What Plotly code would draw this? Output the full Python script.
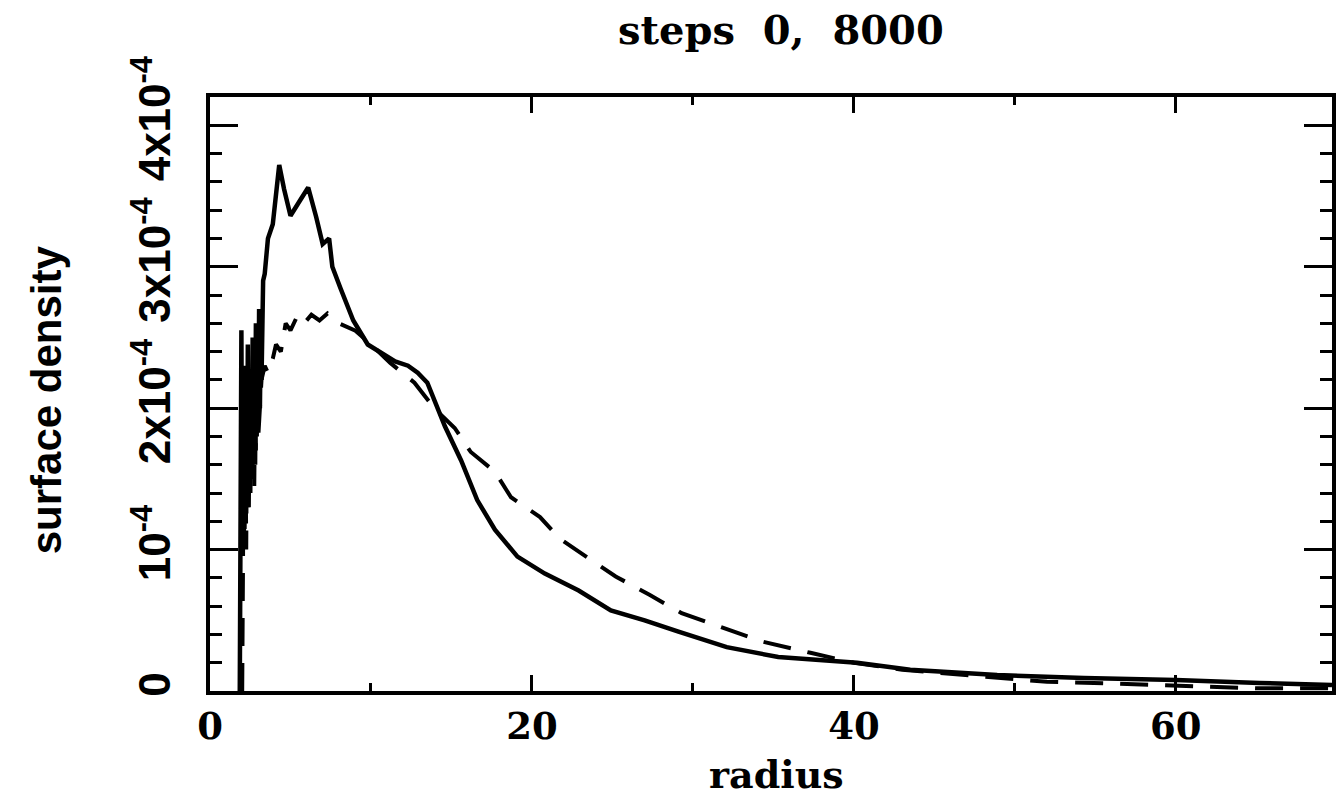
import plotly.graph_objects as go

# ---- data (surface density in units of 1e-4) ----
r_step8000 = [1.85, 1.9, 1.95, 2.0, 2.05, 2.1, 2.15, 2.2, 2.25, 2.3, 2.35, 2.4, 2.45, 2.5, 2.55,
              2.6, 2.65, 2.7, 2.75, 2.8, 2.85, 2.9, 2.95, 3.0, 3.05, 3.1, 3.15, 3.2, 3.25,
              3.3, 3.4, 3.6, 3.9, 4.3, 4.6, 5.0, 5.6, 6.1, 6.6, 7.0, 7.4, 7.6, 8.1, 8.9, 9.8,
              10.9, 11.5, 12.3, 12.9, 13.5, 14.6, 15.6, 16.6, 17.7, 19.1, 20.8, 22.9, 24.9,
              27.0, 29.1, 32.1, 35.3, 40.2, 43.5, 48.9, 54.3, 60.0, 65.2, 69.7]
sd_step8000 = [0.0, 1.0, 2.55, 1.1, 2.0, 1.05, 2.3, 1.2, 2.1, 1.3, 2.45, 1.3, 2.0, 1.4, 2.2,
               1.5, 2.5, 1.6, 2.2, 1.6, 2.6, 1.8, 2.4, 1.9, 2.7, 2.0, 2.5, 2.2, 2.8,
               2.9, 2.95, 3.2, 3.3, 3.72, 3.55, 3.36, 3.47, 3.56, 3.35, 3.16, 3.2, 3.0, 2.85, 2.62, 2.45,
               2.37, 2.33, 2.30, 2.25, 2.18, 1.87, 1.63, 1.35, 1.14, 0.95, 0.83, 0.71, 0.57,
               0.50, 0.42, 0.31, 0.24, 0.20, 0.15, 0.113, 0.092, 0.078, 0.057, 0.042]

r_step0 = [2.0, 2.05, 2.1, 2.15, 2.2, 2.25, 2.3, 2.35, 2.4, 2.45, 2.5, 2.55, 2.6, 2.65, 2.7,
           2.75, 2.8, 2.85, 2.9, 3.0, 3.2, 3.4, 3.6, 3.9,
           4.1, 4.4, 4.7, 5.0, 5.5, 6.0, 6.3, 6.8, 7.3, 8.0, 9.0, 10.0, 11.2, 12.7, 14.0, 15.2,
           16.2, 17.7, 18.7, 20.5, 21.7, 23.5, 25.2, 27.3, 29.3, 31.8, 34.3, 37.3, 40.0, 43.0,
           46.0, 49.5, 52.0, 55.6, 58.7, 62.0, 65.0, 69.7]
sd_step0 = [0.0, 1.05, 1.8, 1.1, 1.9, 1.0, 2.0, 1.3, 1.9, 1.4, 2.1, 1.5, 2.2, 1.5, 1.9,
            1.45, 2.1, 1.7, 2.3, 1.8, 2.2, 2.3, 2.25, 2.35,
            2.45, 2.4, 2.6, 2.55, 2.67, 2.62, 2.66, 2.62, 2.67, 2.6, 2.55, 2.45, 2.32, 2.18, 1.99, 1.86,
            1.69, 1.55, 1.37, 1.23, 1.08, 0.94, 0.81, 0.68, 0.55, 0.45, 0.35, 0.27, 0.20, 0.15,
            0.12, 0.09, 0.065, 0.055, 0.04, 0.03, 0.02, 0.02]

x_ticks = [0, 20, 40, 60]
y_ticks = [0, 1e-4, 2e-4, 3e-4, 4e-4]
y_ticktext = ["0", "10<sup>-4</sup>", "2x10<sup>-4</sup>", "3x10<sup>-4</sup>", "4x10<sup>-4</sup>"]

title_text = "steps\u00a0 0,\u00a0 8000"
x_title = "radius"
y_title = "surface density"

serif = "DejaVu Serif, serif"
sans = "Liberation Sans, Arial, sans-serif"

fig = go.Figure()
fig.add_trace(go.Scatter(x=r_step0, y=[v * 1e-4 for v in sd_step0], mode="lines",
                         line=dict(color="black", width=4, dash="28px,17px"),
                         showlegend=False))
fig.add_trace(go.Scatter(x=r_step8000, y=[v * 1e-4 for v in sd_step8000], mode="lines",
                         line=dict(color="black", width=4.5),
                         showlegend=False))

fig.update_layout(
    width=1336, height=799,
    margin=dict(l=210, r=0, t=97, b=108),
    paper_bgcolor="white", plot_bgcolor="white",
    xaxis=dict(range=[0, 69.7], tickvals=x_ticks, ticks="inside", ticklen=16, tickwidth=3,
               tickcolor="black", showline=True, linewidth=4, linecolor="black",
               mirror="allticks", showgrid=False, zeroline=False,
               minor=dict(dtick=10, ticks="inside", ticklen=8, tickwidth=3, tickcolor="black", showgrid=False),
               tickfont=dict(family=serif, size=37, color="black", weight="bold"),
               ticklabelstandoff=0),
    yaxis=dict(range=[0, 4.2e-4], tickvals=y_ticks, ticktext=y_ticktext, ticks="inside",
               ticklen=28, tickwidth=3, tickcolor="black", showline=True, linewidth=4,
               linecolor="black", mirror="allticks", showgrid=False, zeroline=False,
               minor=dict(dtick=2e-5, ticks="inside", ticklen=12, tickwidth=3, tickcolor="black", showgrid=False),
               tickangle=-90,
               tickfont=dict(family=sans, size=44, color="black", weight="bold"),
               ticklabelstandoff=18),
    annotations=[
        dict(text=title_text, xref="paper", yref="paper", x=0.509, y=1.114,
             xanchor="center", yanchor="middle", showarrow=False,
             font=dict(family=serif, size=40, color="black", weight="bold")),
        dict(text=x_title, xref="paper", yref="paper", x=0.505, y=-0.141,
             xanchor="center", yanchor="middle", showarrow=False,
             font=dict(family=serif, size=38, color="black", weight="bold")),
        dict(text=y_title, xref="paper", yref="paper", x=-0.145, y=0.49,
             xanchor="center", yanchor="middle", showarrow=False, textangle=-90,
             font=dict(family=sans, size=42, color="black", weight="bold")),
    ],
)

fig.write_html("out.html")
